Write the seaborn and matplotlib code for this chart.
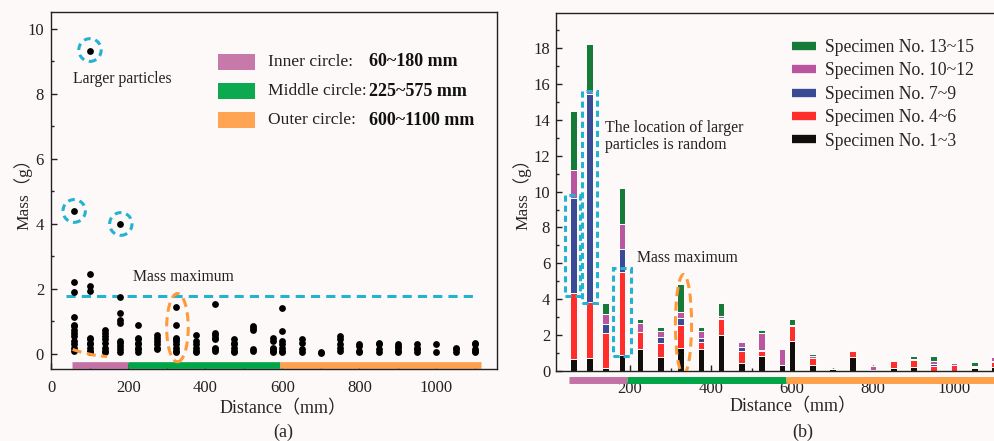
import pandas as pd
import seaborn as sns
import matplotlib.pyplot as plt
from matplotlib.patches import Ellipse, Rectangle
from matplotlib.lines import Line2D
from matplotlib.ticker import MultipleLocator, FixedLocator

# sampling distances (mm)
distances = [60, 100, 140, 180, 225, 275, 325, 375, 425, 475, 525, 575,
             600, 650, 700, 750, 800, 850, 900, 950, 1000, 1050, 1100]

# (a) mass of every collected particle group at each distance (g)
point_mass = [
    [4.4, 2.2, 1.9, 1.15, 0.9, 0.85, 0.75, 0.65, 0.55, 0.4, 0.3, 0.2, 0.1],
    [9.33, 2.45, 2.1, 1.95, 0.5, 0.45, 0.35, 0.3, 0.2, 0.1, 0.05],
    [0.75, 0.65, 0.55, 0.45, 0.35, 0.2, 0.1, 0.05],
    [4.0, 1.75, 1.25, 1.05, 0.95, 0.4, 0.35, 0.25, 0.15, 0.05],
    [0.9, 0.5, 0.45, 0.35, 0.3, 0.2, 0.15, 0.05],
    [0.6, 0.5, 0.4, 0.3, 0.2, 0.15],
    [1.45, 0.9, 0.5, 0.45, 0.4, 0.3, 0.2, 0.1, 0.05],
    [0.6, 0.4, 0.3, 0.2, 0.1, 0.05],
    [1.55, 0.65, 0.6, 0.5, 0.45, 0.2, 0.15, 0.1],
    [0.45, 0.35, 0.3, 0.2, 0.1, 0.05],
    [0.85, 0.8, 0.75, 0.15, 0.1],
    [0.5, 0.4, 0.2, 0.15, 0.1, 0.05],
    [1.4, 0.7, 0.4, 0.3, 0.2, 0.1, 0.05],
    [0.45, 0.35, 0.15, 0.05],
    [0.05, 0.02],
    [0.55, 0.45, 0.3, 0.2, 0.1],
    [0.3, 0.25, 0.1, 0.05],
    [0.35, 0.3, 0.15, 0.05],
    [0.3, 0.25, 0.2, 0.1, 0.05],
    [0.3, 0.2, 0.15, 0.05],
    [0.3, 0.05],
    [0.2, 0.15, 0.05],
    [0.35, 0.3, 0.15, 0.1, 0.05],
]

# (b) summed mass per specimen group (g), bottom to top of the stack
spec_1_3 = [0.65, 0.75, 0.15, 0.9, 1.2, 0.8, 1.3, 1.2, 2.0, 0.43, 0.84, 0.34,
            1.7, 0.32, 0.12, 0.76, 0.05, 0.15, 0.24, 0.02, 0.02, 0.15, 0.2]
spec_4_6 = [3.7, 3.1, 1.95, 4.6, 0.95, 0.78, 1.27, 0.43, 0.9, 0.69, 0.25, 0.0,
            0.8, 0.39, 0.0, 0.37, 0.0, 0.41, 0.36, 0.28, 0.3, 0.05, 0.3]
spec_7_9 = [5.3, 11.6, 0.5, 1.3, 0.05, 0.34, 0.37, 0.19, 0.04, 0.2, 0.06, 0.0,
            0.0, 0.0, 0.0, 0.0, 0.0, 0.0, 0.0, 0.11, 0.0, 0.0, 0.05]
spec_10_12 = [1.55, 0.1, 0.6, 1.4, 0.45, 0.3, 0.34, 0.4, 0.1, 0.32, 0.95, 0.87,
              0.05, 0.13, 0.0, 0.0, 0.25, 0.0, 0.05, 0.13, 0.11, 0.1, 0.25]
spec_13_15 = [3.3, 2.7, 0.6, 2.0, 0.27, 0.21, 1.58, 0.22, 0.75, 0.0, 0.19, 0.0,
              0.37, 0.11, 0.0, 0.0, 0.0, 0.0, 0.19, 0.28, 0.0, 0.18, 0.0]

group_labels = ["Specimen No. 1~3", "Specimen No. 4~6", "Specimen No. 7~9",
                "Specimen No. 10~12", "Specimen No. 13~15"]
group_colors = ["#110d0b", "#ff2e2b", "#3a4a94", "#b9569f", "#167a38"]

zone_names = ["Inner circle:", "Middle circle:", "Outer circle:"]
zone_ranges = ["60~180 mm", "225~575 mm", "600~1100 mm"]
zone_edges = [55, 200, 595, 1115]
zone_colors = ["#c472a6", "#00a547", "#ffa04a"]

cyan = "#22b2d2"
orange = "#ff9a3a"
ink = "#222222"

sns.set_style("ticks")
plt.rcParams["font.family"] = ["Liberation Serif", "Noto Sans CJK SC"]
plt.rcParams["axes.unicode_minus"] = False

fig = plt.figure(figsize=(9.95, 4.41), dpi=100, facecolor="#fdf9f8")
ax1 = fig.add_axes([0.0513, 0.1626, 0.4482, 0.8095])
ax2 = fig.add_axes([0.5585, 0.1587, 0.4817, 0.8118])

for ax in (ax1, ax2):
    ax.set_facecolor("#fdf9f8")
    for sp in ax.spines.values():
        sp.set_linewidth(1.0)
        sp.set_color(ink)
    ax.tick_params(which="both", direction="in", width=1.0, labelsize=12,
                   colors=ink)
    ax.tick_params(which="major", length=4)
    ax.tick_params(which="minor", length=2.5)

# ---------- (a) scatter ----------
rows = []
for d, vals in zip(distances, point_mass):
    for v in vals:
        rows.append({"distance": d, "mass": v})
df_a = pd.DataFrame(rows)

sns.scatterplot(data=df_a, x="distance", y="mass", color="black", s=24,
                linewidth=0, ax=ax1, zorder=3)

ax1.set_xlim(0, 1157)
ax1.set_ylim(-0.47, 10.51)
ax1.xaxis.set_major_locator(MultipleLocator(200))
ax1.xaxis.set_minor_locator(MultipleLocator(100))
ax1.yaxis.set_major_locator(MultipleLocator(2))
ax1.yaxis.set_minor_locator(MultipleLocator(1))
ax1.tick_params(axis="x", pad=8)
ax1.tick_params(axis="y", pad=5)
ax1.set_xlabel("")
ax1.set_ylabel("")

for i in range(3):
    ax1.hlines(-0.34, zone_edges[i], zone_edges[i + 1], color=zone_colors[i],
               lw=4.8, zorder=2)

ax1.hlines(1.79, 40, 1105, color=cyan, lw=2.2, ls=(0, (3, 2)), zorder=2)
ax1.text(213, 2.37, "Mass maximum", fontsize=11.3, va="center", ha="left",
         color=ink)
for cx, cy in [(101, 9.35), (60, 4.4), (181, 4.0)]:
    ax1.add_patch(Ellipse((cx, cy), 58, 0.7, fill=False, ec=cyan, lw=2.2,
                          ls=(0, (2.2, 1.6)), zorder=4))
ax1.text(57, 8.45, "Larger particles", fontsize=11.3, va="center", ha="left",
         color=ink)
ax1.add_patch(Ellipse((328, 0.81), 56, 2.1, fill=False, ec=orange, lw=2.2,
                      ls=(0, (3, 1.8)), zorder=4))
ax1.plot([56, 80, 110, 145], [0.14, 0.05, -0.03, -0.08], color=orange, lw=2.2,
         ls=(0, (3, 1.8)), zorder=4)

# zone legend
for i in range(3):
    fy = 0.861 - i * 0.0815
    ax1.add_patch(Rectangle((0.374, fy - 0.0225), 0.083, 0.045,
                            transform=ax1.transAxes, fc=zone_colors[i],
                            ec="none", alpha=0.95))
    ax1.text(0.486, fy, zone_names[i], transform=ax1.transAxes,
             fontsize=12.6, va="center", ha="left", color=ink)
    ax1.text(0.712, fy, zone_ranges[i], transform=ax1.transAxes, fontsize=13,
             fontweight="bold", va="center", ha="left", color="#111111")

# ---------- (b) stacked bars ----------
groups = [spec_1_3, spec_4_6, spec_7_9, spec_10_12, spec_13_15]
cum = [0.0] * len(distances)
layers = []
for g in groups:
    cum = [c + v for c, v in zip(cum, g)]
    layers.append(list(cum))

# draw the cumulative totals from the top group down so the stack shows
for k in range(len(groups) - 1, -1, -1):
    df_b = pd.DataFrame({"distance": distances, "mass": layers[k]})
    sns.barplot(data=df_b, x="distance", y="mass", native_scale=True,
                orient="x", color=group_colors[k], saturation=1, width=0.66,
                edgecolor="white", linewidth=0.7, errorbar=None, ax=ax2)

ax2.set_xlim(16.5, 1200)
ax2.set_ylim(0, 19.95)
ax2.xaxis.set_major_locator(FixedLocator([200, 400, 600, 800, 1000]))
ax2.xaxis.set_minor_locator(FixedLocator([100, 300, 500, 700, 900, 1100]))
ax2.yaxis.set_major_locator(FixedLocator(list(range(0, 19, 2))))
ax2.yaxis.set_minor_locator(FixedLocator(list(range(1, 20, 2))))
ax2.tick_params(axis="x", pad=7.5)
ax2.tick_params(axis="y", pad=4)
ax2.spines["right"].set_visible(False)
ax2.set_xlabel("")
ax2.set_ylabel("")

b_edges = [50, 192, 585, 1200]
for i in range(3):
    ax2.hlines(-0.5, b_edges[i], b_edges[i + 1], color=zone_colors[i], lw=5,
               clip_on=False)

for (x0, y0, w, h) in [(39.5, 4.2, 37, 5.6), (80.7, 3.8, 38.6, 11.8),
                       (158, 0.85, 43.7, 4.9)]:
    ax2.add_patch(Rectangle((x0, y0), w, h, fill=False, ec=cyan, lw=2.2,
                            ls=(0, (2, 1.3)), zorder=5))
ax2.add_patch(Ellipse((332, 2.6), 40, 5.55, fill=False, ec=orange, lw=2.2,
                      ls=(0, (3, 1.8)), zorder=5))
ax2.text(138, 13.05, "The location of larger\nparticles is random",
         fontsize=11.5, va="center", ha="left", linespacing=1.1, color=ink)
ax2.text(216, 6.3, "Mass maximum", fontsize=11.3, va="center", ha="left",
         color=ink)

handles = [Line2D([0], [0], color=group_colors[k], lw=6, solid_capstyle="butt")
           for k in range(len(groups) - 1, -1, -1)]
labels = group_labels[::-1]
ax2.legend(handles, labels, loc="upper left", bbox_to_anchor=(0.492, 0.927),
           frameon=False, borderpad=0, borderaxespad=0, handlelength=1.4,
           handletextpad=0.5, labelspacing=0.36, fontsize=12.7)

# labels
fig.text(0.2844, 0.0726, "Distance（mm）", ha="center", va="center", fontsize=13)
fig.text(0.2844, 0.0204, "(a)", ha="center", va="center", fontsize=13)
fig.text(0.0228, 0.569, "Mass（g）", ha="center", va="center", rotation=90,
         fontsize=12.5)
fig.text(0.797, 0.077, "Distance（mm）", ha="center", va="center", fontsize=13)
fig.text(0.807, 0.0204, "(b)", ha="center", va="center", fontsize=13)
fig.text(0.525, 0.569, "Mass（g）", ha="center", va="center", rotation=90,
         fontsize=12.5)

fig.savefig("out.png", dpi=100, facecolor=fig.get_facecolor())
